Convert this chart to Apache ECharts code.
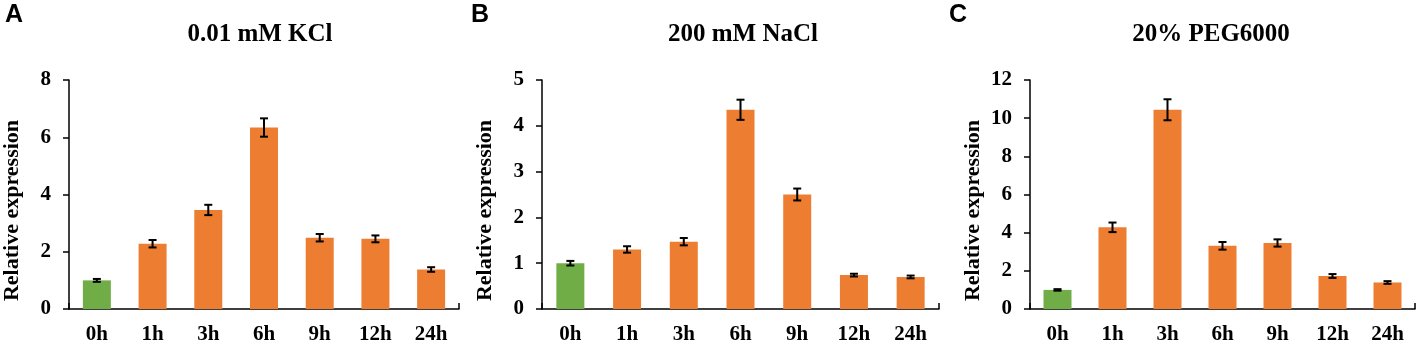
<!DOCTYPE html>
<html>
<head>
<meta charset="utf-8">
<script src="https://cdn.jsdelivr.net/npm/echarts@6/dist/echarts.min.js"></script>
<style>
  html, body { margin: 0; padding: 0; background: #fff; }
  #chart { width: 1417px; height: 345px; }
</style>
</head>
<body>
<div id="chart"></div>
<script>
// time points
var categories = ["0h", "1h", "3h", "6h", "9h", "12h", "24h"];

// panel A: 0.01 mM KCl
var kclMean = [1.0, 2.28, 3.46, 6.34, 2.49, 2.45, 1.38];
var kclErr = [0.05, 0.13, 0.18, 0.32, 0.13, 0.12, 0.08];

// panel B: 200 mM NaCl
var naclMean = [1.0, 1.30, 1.47, 4.35, 2.50, 0.74, 0.70];
var naclErr = [0.05, 0.07, 0.08, 0.22, 0.13, 0.03, 0.03];

// panel C: 20% PEG6000
var pegMean = [1.0, 4.28, 10.44, 3.31, 3.46, 1.73, 1.39];
var pegErr = [0.04, 0.25, 0.55, 0.20, 0.19, 0.10, 0.07];

var panelTitles = ["0.01 mM KCl", "200 mM NaCl", "20% PEG6000"];
var panelLetters = ["A", "B", "C"];
var yMax = [8, 5, 12];
var yStep = [2, 1, 2];

var means = [kclMean, naclMean, pegMean];
var errs = [kclErr, naclErr, pegErr];

var serif = "'Liberation Serif', 'Times New Roman', serif";
var green = "#70AD47";
var orange = "#ED7D31";

var grids = [
  { left: 62, right: 958, top: 80, bottom: 34 },
  { left: 542, right: 478, top: 80, bottom: 34 },
  { left: 1030, right: 2, top: 80, bottom: 34 }
];
var titleX = [260, 743, 1211];
var letterX = [5, 471, 949];

var titles = [];
var xAxes = [];
var yAxes = [];
var series = [];

for (var i = 0; i < 3; i++) {
  titles.push({
    text: panelTitles[i],
    left: titleX[i],
    top: 22,
    padding: 0,
    textAlign: "center",
    textStyle: { fontFamily: serif, fontWeight: "bold", fontSize: 25, color: "#000" }
  });
  titles.push({
    text: panelLetters[i],
    left: letterX[i],
    top: 3,
    padding: 0,
    textStyle: { fontFamily: "'Liberation Sans', Arial, sans-serif", fontWeight: "bold", fontSize: 25, color: "#000" }
  });

  xAxes.push({
    type: "category",
    gridIndex: i,
    data: categories,
    axisLine: { lineStyle: { color: "#000", width: 1.5 } },
    axisTick: {
      show: true,
      inside: true,
      length: 6,
      interval: function (idx) { return idx === 0; },
      lineStyle: { color: "#000", width: 1.5 }
    },
    axisLabel: {
      margin: 15,
      interval: 0,
      color: "#000",
      fontFamily: serif,
      fontWeight: "bold",
      fontSize: 21
    }
  });

  yAxes.push({
    type: "value",
    gridIndex: i,
    min: 0,
    max: yMax[i],
    interval: yStep[i],
    name: "Relative expression",
    nameLocation: "middle",
    nameGap: 46,
    nameTextStyle: {
      fontFamily: serif,
      fontWeight: "bold",
      fontSize: 22,
      color: "#000",
      padding: [0, 32, 0, 0]
    },
    splitLine: { show: false },
    axisLine: { show: true, lineStyle: { color: "#000", width: 1.5 } },
    axisTick: { show: true, length: 6, lineStyle: { color: "#000", width: 1.5 } },
    axisLabel: {
      margin: 18,
      color: "#000",
      fontFamily: serif,
      fontWeight: "bold",
      fontSize: 21
    }
  });

  series.push({
    type: "bar",
    xAxisIndex: i,
    yAxisIndex: i,
    barWidth: 28,
    data: means[i],
    itemStyle: {
      color: function (p) { return p.dataIndex === 0 ? green : orange; }
    },
    z: 2
  });

  (function (m, e) {
    series.push({
      type: "custom",
      xAxisIndex: i,
      yAxisIndex: i,
      z: 5,
      data: m.map(function (v, k) { return [k, v - e[k], v + e[k]]; }),
      renderItem: function (params, api) {
        var k = api.value(0);
        var lo = api.coord([k, api.value(1)]);
        var hi = api.coord([k, api.value(2)]);
        var cap = 4;
        var st = { stroke: "#000", lineWidth: 2 };
        return {
          type: "group",
          children: [
            { type: "line", shape: { x1: lo[0], y1: lo[1], x2: hi[0], y2: hi[1] }, style: st },
            { type: "line", shape: { x1: lo[0] - cap, y1: lo[1], x2: lo[0] + cap, y2: lo[1] }, style: st },
            { type: "line", shape: { x1: hi[0] - cap, y1: hi[1], x2: hi[0] + cap, y2: hi[1] }, style: st }
          ]
        };
      }
    });
  })(means[i], errs[i]);
}

var chart = echarts.init(document.getElementById("chart"));
chart.setOption({
  animation: false,
  title: titles,
  grid: grids,
  xAxis: xAxes,
  yAxis: yAxes,
  series: series
});
</script>
</body>
</html>
